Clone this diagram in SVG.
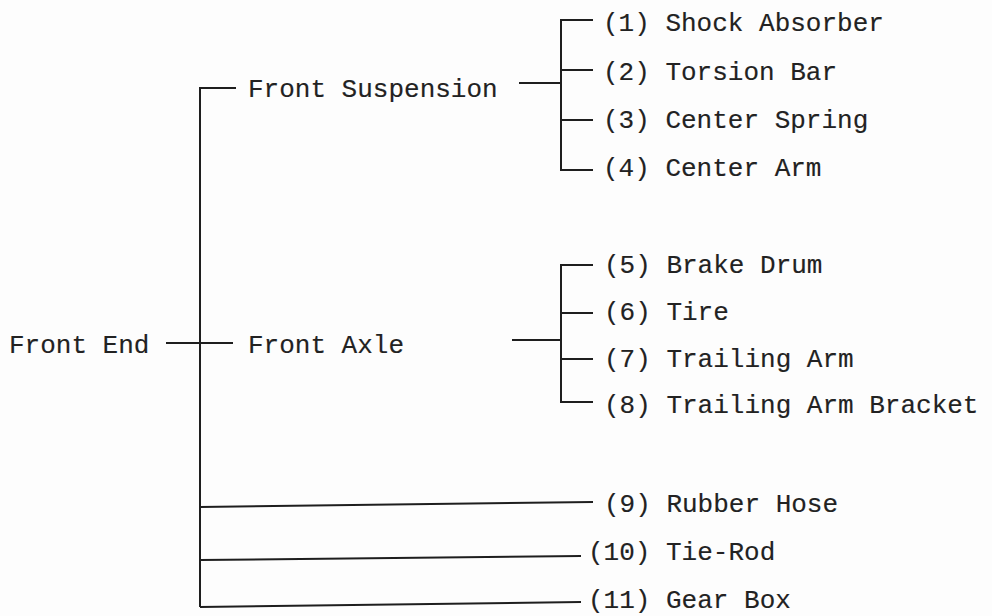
<svg xmlns="http://www.w3.org/2000/svg" width="992" height="616" viewBox="0 0 992 616">
<style>
text{font-family:"Liberation Mono","Courier New",monospace;font-size:26px;fill:#222;stroke:#222;stroke-width:0.15}
.c line,.c path{stroke:#1e1e1e;stroke-width:2;fill:none}
</style>
<rect width="992" height="616" fill="#fdfdfd"/>
<g class="c" id="connectors">
<line x1="166" y1="343" x2="233" y2="343"/>
<path d="M236,88 H200 V607"/>
<line x1="519" y1="83" x2="561" y2="83"/>
<path d="M593,20 H561 V170 H593"/>
<line x1="561" y1="70" x2="593" y2="70"/>
<line x1="561" y1="120" x2="593" y2="120"/>
<line x1="512" y1="340" x2="561" y2="340"/>
<path d="M593,265 H561 V402 H593"/>
<line x1="561" y1="313" x2="593" y2="313"/>
<line x1="561" y1="359" x2="593" y2="359"/>
<line x1="200" y1="507" x2="593" y2="502"/>
<line x1="200" y1="560" x2="581" y2="556"/>
<line x1="200" y1="607" x2="581" y2="602"/>
</g>
<g id="front-end"><text x="9" y="353">Front End</text></g>
<g id="front-suspension"><text x="248" y="97">Front Suspension</text></g>
<g id="front-axle"><text x="248" y="353">Front Axle</text></g>
<g id="n1"><text x="603" y="31">(1) Shock Absorber</text></g>
<g id="n2"><text x="603" y="80">(2) Torsion Bar</text></g>
<g id="n3"><text x="603" y="128">(3) Center Spring</text></g>
<g id="n4"><text x="603" y="176">(4) Center Arm</text></g>
<g id="n5"><text x="604" y="273">(5) Brake Drum</text></g>
<g id="n6"><text x="604" y="320">(6) Tire</text></g>
<g id="n7"><text x="604" y="367">(7) Trailing Arm</text></g>
<g id="n8"><text x="604" y="413">(8) Trailing Arm Bracket</text></g>
<g id="n9"><text x="604" y="512">(9) Rubber Hose</text></g>
<g id="n10"><text x="588" y="560">(10) Tie-Rod</text></g>
<g id="n11"><text x="588" y="608">(11) Gear Box</text></g>
</svg>
